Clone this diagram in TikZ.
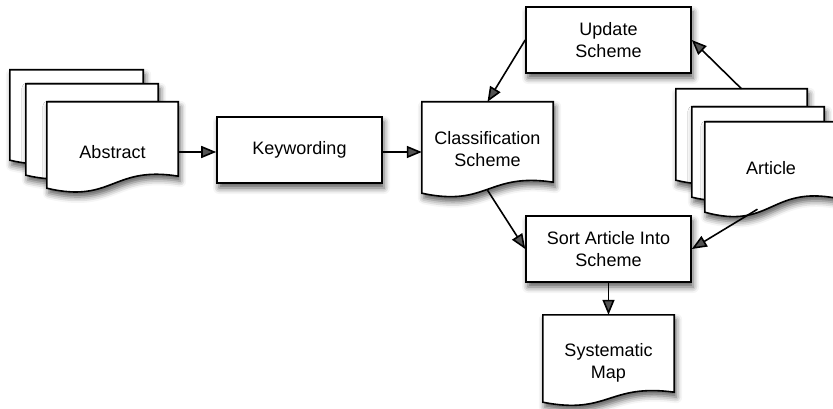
\documentclass[tikz,border=0pt]{standalone}
\usepackage{fontspec}
\setmainfont{Liberation Sans}
\usetikzlibrary{arrows.meta,calc,shadows.blur}
\tikzset{
  shd/.style={blur shadow={shadow xshift=2pt,shadow yshift=-5pt,shadow blur radius=6pt,shadow opacity=65}},
  procbox/.style={draw,line width=1.6pt,fill=white,shd,minimum width=165pt,minimum height=66pt,inner sep=0pt,align=center,font=\fontsize{18}{22}\selectfont},
  docbox/.style={draw=none,inner sep=0pt,minimum width=131pt},
  docline/.style={draw,line width=1.6pt,fill=white,shd,line join=miter},
  lbl/.style={inner sep=0pt,align=center,font=\fontsize{18}{22}\selectfont},
  conn/.style={line width=1.6pt,-{Triangle[length=15pt,width=12pt]}}
}
\newcommand{\docsheet}[2]{%
  \path[docline] (#1.north west) -- (#1.north east) -- ($(#1.south east)+(0,-#2)$)
    .. controls ($(#1.south)+(0,-1.9*#2)$) and ($(#1.south)+(0,1.3*#2)$) .. (#1.south west) -- cycle;}
\begin{document}
\begin{tikzpicture}[x=1pt,y=-1pt]
\useasboundingbox (0,0) rectangle (833,409);
% Abstract stack
\node[docbox,minimum width=133pt,minimum height=90pt] (abs3) at (76.5,115) {};
\node[docbox,minimum width=132pt,minimum height=91pt] (abs2) at (92,129.5) {};
\node[docbox,minimum height=86pt] (abs1) at (112.5,145) {};
\docsheet{abs3}{12}
\docsheet{abs2}{12}
\docsheet{abs1}{12}
\node[lbl] (absT) at (112.5,152) {Abstract};
% Keywording
\node[procbox] (key) at (299.5,150) {Keywording};
% Classification scheme
\node[docbox,minimum height=91pt] (cls) at (487.5,147.5) {};
\docsheet{cls}{11}
\node[lbl] (clsT) at (487.5,149) {Classification\\Scheme};
% Update scheme
\node[procbox] (upd) at (608.5,40) {Update\\Scheme};
% Article stack
\node[docbox,minimum height=91pt] (art3) at (741.5,134.5) {};
\node[docbox,minimum width=132pt,minimum height=90pt] (art2) at (758,152) {};
\node[docbox,minimum height=90pt] (art1) at (770.5,167) {};
\docsheet{art3}{12}
\docsheet{art2}{12}
\docsheet{art1}{14}
\node[lbl] (artT) at (771,168) {Article};
% Sort
\node[procbox] (sort) at (608.5,249) {Sort Article Into\\Scheme};
% Systematic map
\node[docbox,minimum height=87pt] (map) at (608.5,358.5) {};
\docsheet{map}{10}
\node[lbl] (mapT) at (608.5,363) {Systematic\\Map};
% connectors
\coordinate (artS) at ($(art1.south)+(-13,-3)$);
\draw[conn] (abs1.east |- 0,152) -- (key.west |- 0,152);
\draw[conn] (key.east |- 0,152) -- (cls.west |- 0,152);
\draw[conn] (upd.west) -- (cls.north);
\draw[conn] (art3.north) -- (upd.east);
\draw[conn] ($(cls.south)+(0,-3)$) -- (sort.west);
\draw[conn] (artS) -- (sort.east);
\draw[conn] (sort.south) -- (map.north);
\end{tikzpicture}
\end{document}
